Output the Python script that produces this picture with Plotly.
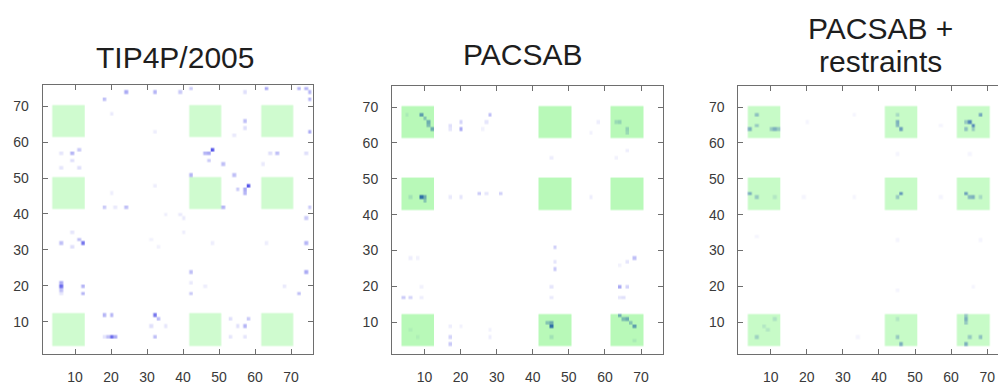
import numpy as np
import plotly.graph_objects as go

# Residue grid and restrained segments
N_RES = 76
residues = np.arange(1, N_RES + 1)
restraint_blocks = [(4, 12), (42, 50), (62, 70)]
tick_values = [10, 20, 30, 40, 50, 60, 70]

panel_titles = ["TIP4P/2005", "PACSAB", "PACSAB +", "restraints"]

# Contact frequencies (symmetric map, pairs listed once with i <= j)
tip_i = [6, 6, 6, 6, 6, 12, 11, 12, 12, 9, 11, 9, 6, 6, 11, 18, 24, 21,
         24, 32, 18, 39, 42, 57, 63, 72, 74, 20, 57, 57, 54, 32,
         48, 47, 46, 47, 51, 42, 9, 9, 35, 39, 32, 20, 33]
tip_j = [20, 21, 19, 18, 32, 32, 33, 20, 18, 57, 58, 55, 57, 53, 53, 42, 42, 42,
         74, 74, 72, 74, 75, 74, 75, 75, 75, 68, 66, 64, 62, 63,
         58, 57, 57, 55, 54, 51, 31, 35, 40, 40, 48, 46, 31]
tip_w = [0.7, 0.4, 0.3, 0.12, 0.3, 0.65, 0.3, 0.35, 0.35, 0.35, 0.25, 0.15, 0.12, 0.12, 0.15, 0.25, 0.3, 0.1,
         0.4, 0.35, 0.3, 0.25, 0.25, 0.15, 0.4, 0.35, 0.35, 0.1, 0.3, 0.15, 0.1, 0.08,
         0.8, 0.4, 0.35, 0.25, 0.3, 0.35, 0.15, 0.12, 0.08, 0.1, 0.08, 0.08, 0.06]

pac_i = [9, 10, 11, 11, 12, 5, 9, 10, 10, 6, 20, 20, 17, 17, 28, 27, 26,
         45, 58, 56, 63, 64, 17, 20, 25, 27, 31, 4, 6, 6, 8, 9, 9, 6]
pac_j = [68, 67, 66, 65, 64, 68, 45, 45, 44, 45, 64, 66, 65, 64, 68, 66, 64,
         56, 66, 63, 66, 66, 45, 45, 46, 46, 46, 17, 17, 28, 28, 17, 20, 8]
pac_w = [0.6, 0.35, 0.5, 0.4, 0.5, 0.1, 0.9, 0.5, 0.35, 0.15, 0.4, 0.2, 0.15, 0.12, 0.3, 0.12, 0.06,
         0.08, 0.08, 0.06, 0.2, 0.25, 0.1, 0.12, 0.25, 0.12, 0.22, 0.25, 0.2, 0.08, 0.06, 0.08, 0.06, 0.06]

res_i = [6, 4, 6, 11, 12, 10, 45, 46, 45, 45, 65, 64, 68, 64,
         4, 6, 11, 46, 45, 6, 8, 11, 20, 33, 19, 33, 45, 57, 6]
res_j = [68, 64, 65, 64, 64, 64, 66, 64, 68, 65, 66, 64, 68, 66,
         46, 45, 45, 46, 45, 6, 9, 11, 66, 68, 45, 45, 57, 65, 34]
res_w = [0.35, 0.45, 0.3, 0.45, 0.3, 0.3, 0.45, 0.55, 0.2, 0.4, 0.7, 0.35, 0.5, 0.3,
         0.45, 0.3, 0.12, 0.6, 0.3, 0.25, 0.12, 0.15, 0.05, 0.05, 0.05, 0.05, 0.05, 0.05, 0.05]

# Opacity of the green restraint overlay in each panel
overlay_alpha = [0.19, 0.28, 0.22]

# each residue cell is rendered as SUB x SUB samples so smoothing only softens the cell edges
SUB = 2


def contact_matrix(ii, jj, ww):
    z = np.zeros((N_RES, N_RES))
    for i, j, w in zip(ii, jj, ww):
        z[j - 1, i - 1] = max(z[j - 1, i - 1], w)
        z[i - 1, j - 1] = max(z[i - 1, j - 1], w)
    return z


def block_matrix(blocks):
    z = np.zeros((N_RES, N_RES))
    for a0, a1 in blocks:
        for b0, b1 in blocks:
            z[b0 - 1:b1, a0 - 1:a1] = 1.0
    return z


def cell_samples(z):
    return np.kron(z, np.ones((SUB, SUB)))


offsets = (np.arange(SUB) + 0.5) / SUB - 0.5
sample_pos = (residues[:, None] + offsets[None, :]).ravel()

maps = [contact_matrix(tip_i, tip_j, tip_w),
        contact_matrix(pac_i, pac_j, pac_w),
        contact_matrix(res_i, res_j, res_w)]
blocks_z = block_matrix(restraint_blocks)

W, H = 998, 385
# plot areas in pixels: (left, right, top, bottom)
areas = [(42.7, 312.7, 85.0, 356.0),
         (392.0, 662.7, 86.0, 356.3),
         (738.3, 998.0, 86.0, 356.3)]
x_ranges = [[1, 76], [1, 76], [1, 73]]

fig = go.Figure()
axis_font = dict(family="Liberation Sans, Arial, sans-serif", size=14, color="#3a3a3a")
line_col = "#6e6e6e"

for k in range(3):
    sfx = "" if k == 0 else str(k + 1)
    fig.add_trace(go.Heatmap(
        x=sample_pos, y=sample_pos, z=cell_samples(maps[k]), zmin=0, zmax=1,
        colorscale=[[0, "rgb(255,255,255)"], [1, "rgb(45,45,228)"]],
        zsmooth="best", showscale=False, hoverinfo="skip",
        xaxis="x" + sfx, yaxis="y" + sfx))
    a = overlay_alpha[k]
    fig.add_trace(go.Heatmap(
        x=sample_pos, y=sample_pos, z=cell_samples(blocks_z), zmin=0, zmax=1,
        colorscale=[[0, "rgba(0,235,0,0)"], [1, f"rgba(0,235,0,{a})"]],
        zsmooth="best", showscale=False, hoverinfo="skip",
        xaxis="x" + sfx, yaxis="y" + sfx))

    l, r, t, b = areas[k]
    common = dict(tickvals=tick_values, ticks="inside", ticklen=5, tickwidth=1,
                  tickcolor=line_col, showline=True, linecolor=line_col, linewidth=1,
                  showgrid=False, zeroline=False, tickfont=axis_font,
                  ticklabelstandoff=10)
    fig.layout["xaxis" + sfx] = dict(
        domain=[l / W, r / W], range=x_ranges[k], anchor="y" + sfx,
        mirror="ticks", **common)
    fig.layout["yaxis" + sfx] = dict(
        domain=[(H - b) / H, (H - t) / H], range=[1, 76], anchor="x" + sfx,
        mirror=("ticks" if k < 2 else False), **common)

title_font = dict(family="Liberation Sans, Arial, sans-serif", size=30, color="#1e1e1e")
title_pos = [(175, 58), (523, 55), (880, 29), (880, 62)]
for text, (px, py) in zip(panel_titles, title_pos):
    fig.add_annotation(text=text, x=px / W, y=(H - py) / H, xref="paper", yref="paper",
                       xanchor="center", yanchor="middle", showarrow=False, font=title_font)

fig.update_layout(width=W, height=H, margin=dict(l=0, r=0, t=0, b=0),
                  paper_bgcolor="white", plot_bgcolor="white", showlegend=False)

fig.write_html("out.html")
